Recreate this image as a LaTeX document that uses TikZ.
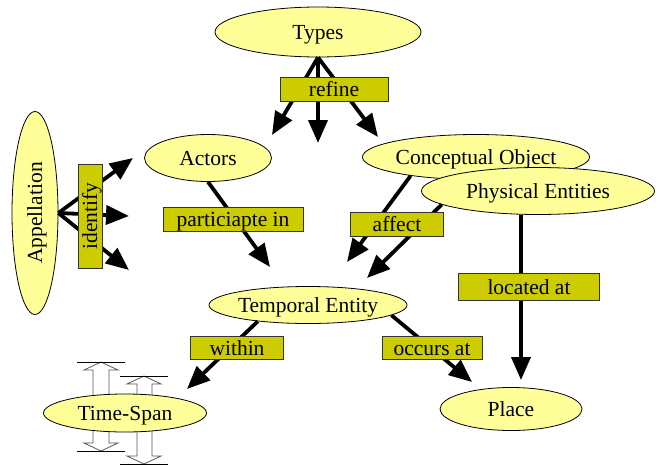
\documentclass[tikz,border=0pt]{standalone}
\usepackage{fontspec}
\setmainfont{Liberation Serif}
\usetikzlibrary{arrows.meta, shapes.geometric}

\definecolor{conceptfill}{HTML}{FFFF99}
\definecolor{relationfill}{HTML}{CCCC00}

\begin{document}
\begin{tikzpicture}[x=1pt, y=-1pt,
        font=\rmfamily\fontsize{21.5}{24}\selectfont,
        concept/.style = {ellipse, draw, fill=conceptfill, line width=0.8pt, inner sep=0pt, text height=14pt, text depth=0pt},
        relation/.style = {rectangle, draw=black!80, fill=relationfill, line width=0.8pt, inner sep=0pt, text height=14pt, text depth=0pt},
        link/.style = {-{Triangle[length=23pt, width=19pt]}, line width=3.8pt},
        span/.style = {draw=black!65, fill=white, line width=0.8pt}]
        \useasboundingbox (0,0) rectangle (656,466);

        % interval marks behind the time-span
        \draw[span] (101,362) -- (118,370) -- (109,370) -- (109,443) -- (118,443) -- (101,451) -- (84,443) -- (93,443) -- (93,370) -- (84,370) -- cycle;
        \draw[span] (144,376) -- (161,384) -- (152,384) -- (152,456) -- (161,456) -- (144,464) -- (127,456) -- (137,456) -- (137,384) -- (127,384) -- cycle;
        \draw[line width=0.8pt] (77,362) -- (125,362) (77,451) -- (125,451);
        \draw[line width=0.8pt] (120,376) -- (168,376) (120,464) -- (168,464);

        \node (Types) [concept, minimum width=206pt, minimum height=50pt] at (318,32) {Types};
        \node (Appellation) [concept, rotate=90, minimum width=203pt, minimum height=46pt] at (35,213) {Appellation};
        \node (Actors) [concept, minimum width=127pt, minimum height=47pt] at (208,158) {Actors};
        \node (ConceptualObject) [concept, minimum width=222pt, minimum height=45pt] at (476,157) {Conceptual Object};
        \node (PhysicalEntities) [concept, minimum width=233pt, minimum height=47pt] at (538,191) {Physical Entities};
        \node (TemporalEntity) [concept, minimum width=198pt, minimum height=37pt] at (308,305) {Temporal Entity};
        \node (TimeSpan) [concept, minimum width=163pt, minimum height=38pt] at (125,413) {Time-Span};
        \node (Place) [concept, minimum width=142pt, minimum height=43pt] at (511,409) {Place};

        \coordinate (RefineLeft) at (272,135);
        \coordinate (RefineMid) at (318,143);
        \coordinate (RefineRight) at (378,137);
        \coordinate (IdentifyUp) at (133,158);
        \coordinate (IdentifyMid) at (129,216);
        \coordinate (IdentifyDown) at (129,270);
        \coordinate (ParticipateEnd) at (270,267);
        \coordinate (AffectConceptEnd) at (347,262);
        \coordinate (AffectPhysicalEnd) at (367,278);
        \coordinate (LocatedEnd) at (521,380);
        \coordinate (WithinEnd) at (187,389);
        \coordinate (OccursEnd) at (472,382);

        \draw[link] (Types.south) -- (RefineLeft);
        \draw[link] (Types.south) -- (RefineMid);
        \draw[link] (Types.south) -- (RefineRight);
        \draw[link] (Appellation.south) -- (IdentifyUp);
        \draw[link] (Appellation.south) -- (IdentifyMid);
        \draw[link] (Appellation.south) -- (IdentifyDown);
        \draw[link] (Actors.south) -- (ParticipateEnd);
        \draw[link] (ConceptualObject.-164) -- (AffectConceptEnd);
        \draw[link] (PhysicalEntities.-172) -- (AffectPhysicalEnd);
        \draw[link] (PhysicalEntities.south -| LocatedEnd) -- (LocatedEnd);
        \draw[link] (TemporalEntity.-162) -- (WithinEnd);
        \draw[link] (TemporalEntity.-7) -- (OccursEnd);

        \node (Refine) [relation, minimum width=108pt, minimum height=24pt] at (334,89) {refine};
        \node (Identify) [relation, rotate=90, minimum width=104pt, minimum height=24pt] at (90,216) {identify};
        \node (ParticipateIn) [relation, minimum width=140pt, minimum height=24pt] at (233,219) {particiapte in};
        \node (Affect) [relation, minimum width=93pt, minimum height=24pt] at (397,224) {affect};
        \node (LocatedAt) [relation, minimum width=141pt, minimum height=27pt] at (529,287) {located at};
        \node (Within) [relation, minimum width=93pt, minimum height=23pt] at (237,348) {within};
        \node (OccursAt) [relation, minimum width=100pt, minimum height=23pt] at (432,348) {occurs at};
\end{tikzpicture}
\end{document}
